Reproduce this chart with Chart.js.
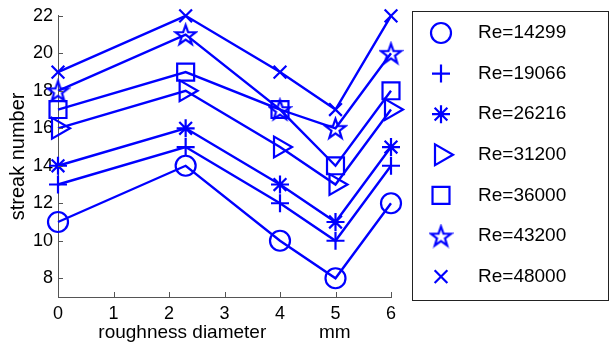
<!DOCTYPE html>
<html>
<head>
<meta charset="utf-8">
<script src="https://cdn.jsdelivr.net/npm/chart.js@4.4.0/dist/chart.umd.min.js"></script>
<style>
html, body { margin: 0; padding: 0; background: #fff; }
</style>
</head>
<body>
<canvas id="chart" width="610" height="349"></canvas>
<script>
// roughness diameter (mm) on x, streak number on y
const diameters = [0, 2.3, 4, 5, 6];
const xTicks = [0, 1, 2, 3, 4, 5, 6];
const yTicks = [8, 10, 12, 14, 16, 18, 20, 22];

const reLabels = ['Re=14299', 'Re=19066', 'Re=26216', 'Re=31200', 'Re=36000', 'Re=43200', 'Re=48000'];
const re14299 = [11, 14, 10, 8, 12];
const re19066 = [13, 15, 12, 10, 14];
const re26216 = [14, 16, 13, 11, 15];
const re31200 = [16, 18, 15, 13, 17];
const re36000 = [17, 19, 17, 14, 18];
const re43200 = [18, 21, 17, 16, 20];
const re48000 = [19, 22, 19, 17, 22];

const BLUE = '#0000ff';
const FONT = "'Liberation Sans', Arial, sans-serif";

// matlab style pentagram, chart.js has no 5 point star
function makePentagram(size) {
    const c = document.createElement('canvas');
    c.width = size;
    c.height = size;
    const g = c.getContext('2d');
    const cx = size / 2, cy = size / 2 + 1;
    const R = size / 2 - 2, r = R * 0.4;
    g.beginPath();
    for (let i = 0; i < 10; i++) {
        const a = -Math.PI / 2 + i * Math.PI / 5;
        const rr = i % 2 ? r : R;
        g.lineTo(cx + rr * Math.cos(a), cy + rr * Math.sin(a));
    }
    g.closePath();
    g.strokeStyle = BLUE;
    g.lineWidth = 2.2;
    g.stroke();
    return c;
}

const pentagram = makePentagram(25);

function series(label, values, style, radius, rotation) {
    return {
        label: label,
        data: values.map((v, i) => ({ x: diameters[i], y: v })),
        showLine: true,
        clip: false,
        borderColor: BLUE,
        borderWidth: 2.4,
        pointStyle: style,
        pointRadius: radius,
        pointRotation: rotation || 0,
        pointBorderColor: BLUE,
        pointBackgroundColor: 'rgba(0,0,0,0)',
        pointBorderWidth: 2.2
    };
}

const datasets = [
    series(reLabels[0], re14299, 'circle', 10),
    series(reLabels[1], re19066, 'cross', 9),
    series(reLabels[2], re26216, 'star', 9),
    series(reLabels[3], re31200, 'triangle', 12, 90),
    series(reLabels[4], re36000, 'rect', 12),
    series(reLabels[5], re43200, pentagram, 12),
    series(reLabels[6], re48000, 'crossRot', 9)
];

// inward tick marks like matlab
const innerTicks = {
    id: 'innerTicks',
    afterDraw(chart) {
        const ctx = chart.ctx;
        const xs = chart.scales.x, ys = chart.scales.y;
        const area = chart.chartArea;
        ctx.save();
        ctx.strokeStyle = '#555';
        ctx.lineWidth = 1;
        ctx.beginPath();
        xTicks.forEach(v => {
            const px = Math.round(xs.getPixelForValue(v)) + 0.5;
            ctx.moveTo(px, area.bottom);
            ctx.lineTo(px, area.bottom - 5);
        });
        yTicks.forEach(v => {
            const py = Math.round(ys.getPixelForValue(v)) + 0.5;
            ctx.moveTo(area.left, py);
            ctx.lineTo(area.left + 5, py);
        });
        ctx.stroke();
        ctx.restore();
    }
};

// boxed legend on the right
const boxLegend = {
    id: 'boxLegend',
    afterDraw(chart) {
        const ctx = chart.ctx;
        ctx.save();
        ctx.strokeStyle = '#222';
        ctx.lineWidth = 1;
        ctx.strokeRect(412.5, 11.5, 196, 289);
        chart.data.datasets.forEach((ds, i) => {
            const y = 33 + i * 40.6;
            ctx.strokeStyle = BLUE;
            ctx.fillStyle = 'rgba(0,0,0,0)';
            ctx.lineWidth = 2.2;
            Chart.helpers.drawPoint(ctx, {
                pointStyle: ds.pointStyle,
                rotation: ds.pointRotation,
                radius: ds.pointRadius,
                borderWidth: 2.2
            }, 441, y);
            ctx.fillStyle = '#000';
            ctx.font = '19px ' + FONT;
            ctx.textBaseline = 'middle';
            ctx.textAlign = 'left';
            ctx.fillText(ds.label, 478, y);
        });
        ctx.restore();
    }
};

new Chart(document.getElementById('chart'), {
    type: 'scatter',
    data: { datasets: datasets },
    options: {
        responsive: false,
        animation: false,
        layout: { padding: { left: 0, right: 219, top: 15, bottom: 0 } },
        plugins: {
            legend: { display: false },
            tooltip: { enabled: false }
        },
        scales: {
            x: {
                type: 'linear',
                min: 0,
                max: 6,
                afterBuildTicks: s => { s.ticks = xTicks.map(v => ({ value: v })); },
                afterFit: s => { s.height = 52; },
                grid: { display: false, drawTicks: false },
                border: { display: true, color: '#555', width: 1 },
                ticks: { color: '#000', padding: 6, autoSkip: false, maxRotation: 0, font: { family: FONT, size: 18 } },
                title: {
                    display: true,
                    text: 'roughness diameter          mm',
                    color: '#000',
                    font: { family: FONT, size: 19 },
                    padding: { top: 0, bottom: 5 }
                }
            },
            y: {
                type: 'linear',
                min: 7,
                max: 22,
                afterBuildTicks: s => { s.ticks = yTicks.map(v => ({ value: v })); },
                afterFit: s => { s.width = 58; },
                grid: { display: false, drawTicks: false },
                border: { display: true, color: '#555', width: 1 },
                ticks: { color: '#000', padding: 5, font: { family: FONT, size: 18 } },
                title: {
                    display: true,
                    text: 'streak number',
                    color: '#000',
                    font: { family: FONT, size: 20 },
                    padding: { top: 6, bottom: 0 }
                }
            }
        }
    },
    plugins: [innerTicks, boxLegend]
});
</script>
</body>
</html>
